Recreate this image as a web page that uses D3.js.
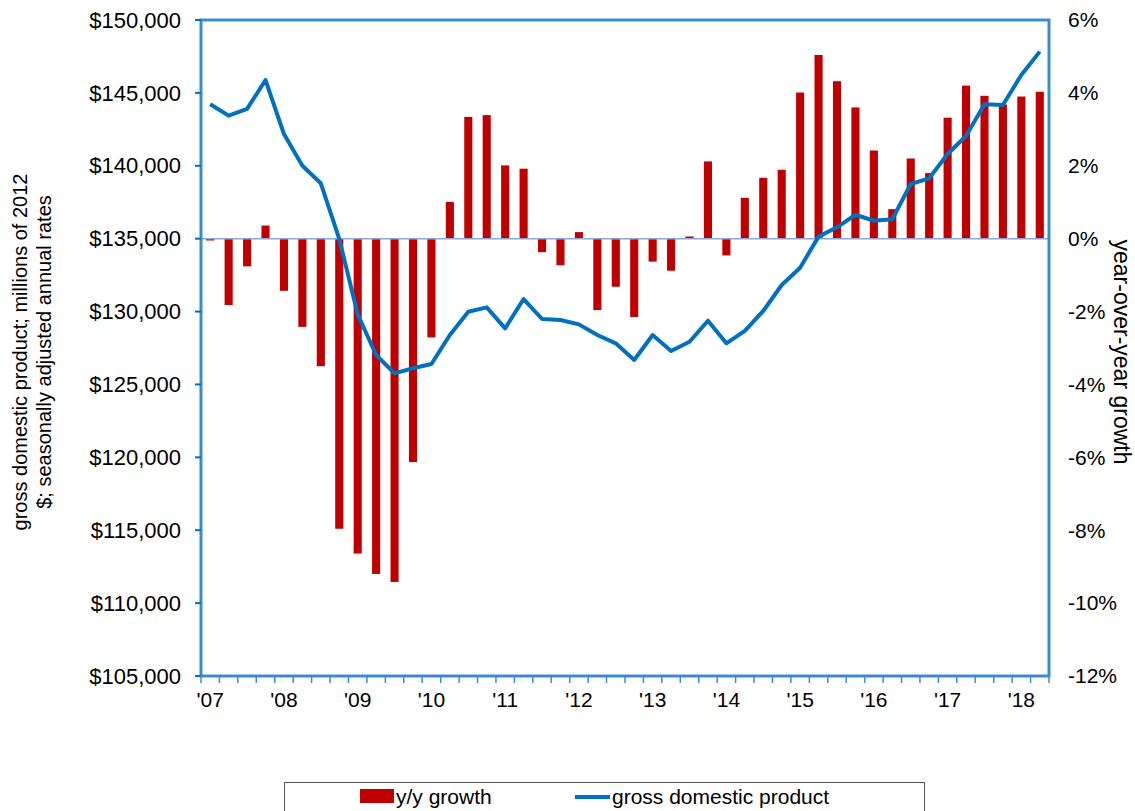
<!DOCTYPE html>
<html>
<head>
<meta charset="utf-8">
<script src="https://cdn.jsdelivr.net/npm/d3@7"></script>
<style>
  body { margin: 0; background: #fff; }
  text { font-family: "Liberation Sans", Arial, sans-serif; fill: #000; }
</style>
</head>
<body>
<svg width="1135" height="811"></svg>
<script>
// quarters 2007Q1 .. 2018Q2
var quarters = [];
for (var yr = 2007; yr <= 2018; yr++) {
  for (var q = 1; q <= 4; q++) {
    if (yr === 2018 && q > 2) break;
    quarters.push(yr + "Q" + q);
  }
}

// real GDP, millions of 2012 $
var gdp = [
  144220, 143440, 143900, 145880, 142180, 140000, 138800, 134980,
  129810, 127020, 125760, 126110, 126400, 128390, 129990, 130290,
  128850, 130860, 129490, 129420, 129120, 128390, 127820, 126680,
  128390, 127290, 127930, 129370, 127820, 128670, 130040, 131820,
  133010, 135140, 135780, 136640, 136230, 136330, 138750, 139140,
  140810, 142040, 144220, 144170, 146230, 147830
];

// year-over-year growth, %
var growth = [
  -0.05, -1.82, -0.76, 0.36, -1.43, -2.42, -3.50, -7.96,
  -8.64, -9.20, -9.42, -6.13, -2.71, 1.01, 3.34, 3.39,
  2.01, 1.92, -0.37, -0.73, 0.18, -1.96, -1.32, -2.15,
  -0.63, -0.88, 0.06, 2.12, -0.46, 1.12, 1.67, 1.89,
  4.01, 5.04, 4.32, 3.60, 2.42, 0.81, 2.20, 1.80,
  3.32, 4.20, 3.92, 3.68, 3.90, 4.03
];

var leftTicks = [105000, 110000, 115000, 120000, 125000, 130000, 135000, 140000, 145000, 150000];
var rightTicks = [-12, -10, -8, -6, -4, -2, 0, 2, 4, 6];
var yearLabels = ["'07", "'08", "'09", "'10", "'11", "'12", "'13", "'14", "'15", "'16", "'17", "'18"];

var svg = d3.select("svg"),
  pLeft = 201, pRight = 1049, pTop = 20, pBottom = 676,
  frameColor = "#3a8cd0";

var x = d3.scaleBand()
  .domain(quarters)
  .range([pLeft, pRight])
  .paddingInner(0.56)
  .paddingOuter(0.28);

var xc = d3.scaleBand().domain(quarters).range([pLeft, pRight]);

var yL = d3.scaleLinear().domain([105000, 150000]).range([pBottom, pTop]);
var yR = d3.scaleLinear().domain([-12, 6]).range([pBottom, pTop]);

// bars
svg.append("g")
  .selectAll("rect")
  .data(growth)
  .enter().append("rect")
  .attr("x", function (d, i) { return x(quarters[i]); })
  .attr("width", x.bandwidth())
  .attr("y", function (d) { return yR(Math.max(0, d)); })
  .attr("height", function (d) { return Math.abs(yR(d) - yR(0)); })
  .attr("fill", "#c00000");

// zero line
svg.append("line")
  .attr("x1", pLeft).attr("x2", pRight)
  .attr("y1", yR(0)).attr("y2", yR(0))
  .attr("stroke", "#8aa8d8")
  .attr("stroke-width", 1.5);

// gdp line
var line = d3.line()
  .x(function (d, i) { return xc(quarters[i]) + xc.bandwidth() / 2; })
  .y(function (d) { return yL(d); });

svg.append("path")
  .datum(gdp)
  .attr("d", line)
  .attr("fill", "none")
  .attr("stroke", "#0070c0")
  .attr("stroke-width", 4)
  .attr("stroke-linejoin", "round");

// frame
svg.append("rect")
  .attr("x", pLeft).attr("y", pTop)
  .attr("width", pRight - pLeft).attr("height", pBottom - pTop)
  .attr("fill", "none")
  .attr("stroke", frameColor)
  .attr("stroke-width", 3);

// left axis
var yAxisL = svg.append("g");
yAxisL.selectAll("line")
  .data(leftTicks)
  .enter().append("line")
  .attr("x1", pLeft - 6).attr("x2", pLeft)
  .attr("y1", yL).attr("y2", yL)
  .attr("stroke", "#0070c0")
  .attr("stroke-width", 2);
yAxisL.selectAll("text")
  .data(leftTicks)
  .enter().append("text")
  .attr("x", 181)
  .attr("y", yL)
  .attr("dy", "0.35em")
  .attr("text-anchor", "end")
  .style("font-size", "22px")
  .text(function (d) { return "$" + d3.format(",")(d); });

// right axis
svg.append("g")
  .selectAll("text")
  .data(rightTicks)
  .enter().append("text")
  .attr("x", 1068)
  .attr("y", yR)
  .attr("dy", "0.35em")
  .style("font-size", "21px")
  .text(function (d) { return d + "%"; });

// x axis ticks
var xt = svg.append("g");
xt.selectAll("line")
  .data(d3.range(quarters.length + 1))
  .enter().append("line")
  .attr("x1", function (i) { return pLeft + i * xc.step(); })
  .attr("x2", function (i) { return pLeft + i * xc.step(); })
  .attr("y1", pBottom).attr("y2", pBottom + 7)
  .attr("stroke", frameColor)
  .attr("stroke-width", 1.5);

xt.selectAll("text")
  .data(yearLabels)
  .enter().append("text")
  .attr("x", function (d, i) { return xc(quarters[i * 4]) + xc.bandwidth() / 2; })
  .attr("y", 707)
  .attr("text-anchor", "middle")
  .style("font-size", "21px")
  .text(function (d) { return d; });

// axis titles
var lt = svg.append("text")
  .attr("transform", "translate(27,352)rotate(-90)")
  .attr("text-anchor", "middle")
  .style("font-size", "20px");
lt.append("tspan").attr("x", 0).attr("dy", 0).text("gross domestic product; millions of 2012");
lt.append("tspan").attr("x", 0).attr("dy", 24).text("$; seasonally adjusted annual rates");

svg.append("text")
  .attr("transform", "translate(1114,352)rotate(90)")
  .attr("text-anchor", "middle")
  .style("font-size", "23px")
  .text("year-over-year growth");

// legend
var lg = svg.append("g");
lg.append("rect")
  .attr("x", 284.5).attr("y", 782.5)
  .attr("width", 640).attr("height", 40)
  .attr("fill", "#fff")
  .attr("stroke", "#555")
  .attr("stroke-width", 1);
lg.append("rect")
  .attr("x", 360).attr("y", 789)
  .attr("width", 34).attr("height", 14)
  .attr("fill", "#c00000");
lg.append("text")
  .attr("x", 396).attr("y", 804)
  .style("font-size", "21px")
  .text("y/y growth");
lg.append("line")
  .attr("x1", 575).attr("x2", 610)
  .attr("y1", 797).attr("y2", 797)
  .attr("stroke", "#0070c0")
  .attr("stroke-width", 4);
lg.append("text")
  .attr("x", 612).attr("y", 804)
  .style("font-size", "21px")
  .text("gross domestic product");
</script>
</body>
</html>
